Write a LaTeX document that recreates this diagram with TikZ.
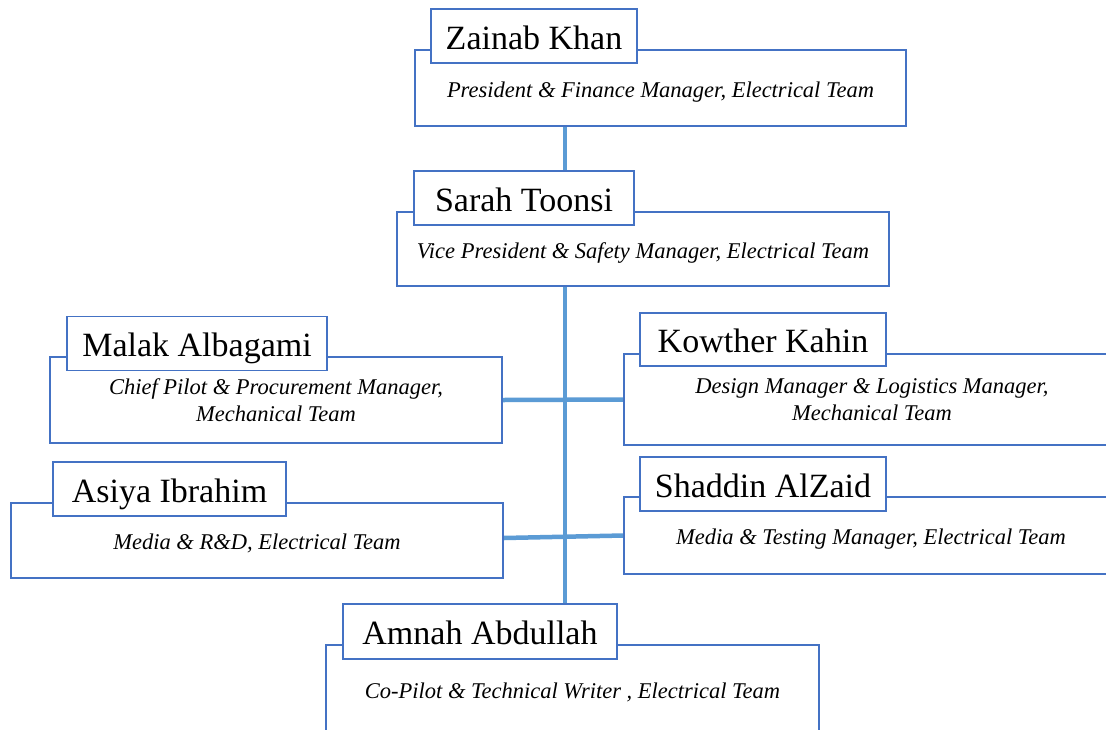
\documentclass[tikz,border=0pt]{standalone}
\usepackage{fontspec}
\setmainfont{Liberation Serif}
\usetikzlibrary{backgrounds}
\definecolor{boxblue}{HTML}{4472C4}
\definecolor{linkblue}{HTML}{5B9BD5}
\tikzset{
  bigbox/.style={draw=boxblue, line width=1.5pt, fill=white, inner sep=0pt, align=center,
    font=\fontsize{22.5}{27}\selectfont\itshape},
  oneline/.style={text height=23pt, text depth=5pt},
  namebox/.style={draw=boxblue, line width=1.5pt, fill=white, inner sep=0pt,
    text height=31pt, text depth=5pt, font=\fontsize{34}{40}\selectfont},
  link/.style={draw=linkblue, line width=4.5pt}
}
\begin{document}
\begin{tikzpicture}[x=1pt,y=-1pt]
\clip (0,0) rectangle (1106,729);
\coordinate (trunkx) at (565,0);
% role boxes
\node[bigbox, oneline, minimum width=491, minimum height=76] (zbox) at (660.5,88) {President \& Finance Manager, Electrical Team};
\node[bigbox, oneline, minimum width=492, minimum height=74] (sbox) at (643,249) {Vice President \& Safety Manager, Electrical Team};
\node[bigbox, minimum width=452, minimum height=86] (mbox) at (276,400) {Chief Pilot \& Procurement Manager,\\Mechanical Team};
\node[bigbox, minimum width=496, minimum height=91] (kbox) at (872,399.5) {Design Manager \& Logistics Manager,\\Mechanical Team};
\node[bigbox, oneline, minimum width=492, minimum height=75] (abox) at (257,540.5) {Media \& R\&D, Electrical Team};
\node[bigbox, oneline, minimum width=494, minimum height=77] (shbox) at (871,535.5) {Media \& Testing Manager, Electrical Team};
\node[bigbox, oneline, minimum width=493, minimum height=88] (ambox) at (572.5,689) {Co-Pilot \& Technical Writer , Electrical Team};
% name boxes
\node[namebox, minimum width=206, minimum height=54] (zname) at (534,36) {Zainab Khan};
\node[namebox, minimum width=220, minimum height=54] (sname) at (524,198) {Sarah Toonsi};
\node[namebox, minimum width=260, minimum height=54] (mname) at (197,343.5) {Malak Albagami};
\node[namebox, minimum width=246, minimum height=53] (kname) at (763,339.5) {Kowther Kahin};
\node[namebox, minimum width=233, minimum height=54] (aname) at (169.5,489) {Asiya Ibrahim};
\node[namebox, minimum width=246, minimum height=54] (shname) at (763,484) {Shaddin AlZaid};
\node[namebox, minimum width=274, minimum height=55] (amname) at (480,631.5) {Amnah Abdullah};
% connectors behind the boxes
\begin{pgfonlayer}{background}
\fill[white] (0,0) rectangle (1106,729);
\draw[link] (zbox.south -| trunkx) -- (ambox.north -| trunkx);
\draw[link] (mbox.east) -- (kbox.west);
\draw[link] ([yshift=2.5pt]abox.east) -- (shbox.west);
\end{pgfonlayer}
\end{tikzpicture}
\end{document}
